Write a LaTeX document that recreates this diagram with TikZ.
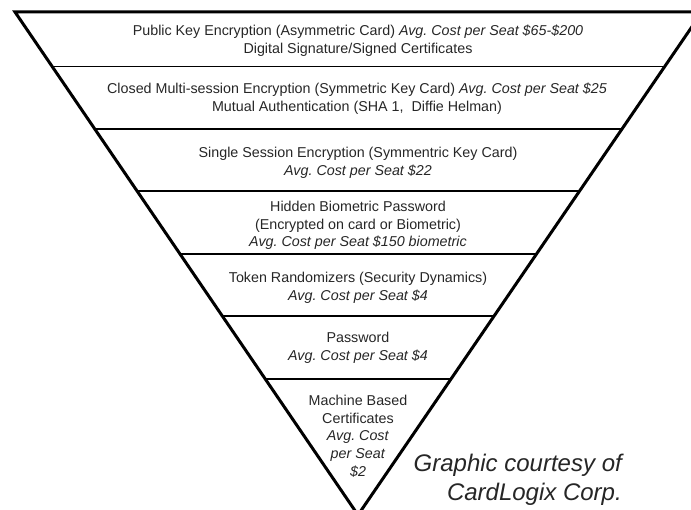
\documentclass[tikz,border=0pt]{standalone}
\usepackage{fontspec}
\setmainfont{Liberation Sans}
\usetikzlibrary{calc}
\definecolor{ink}{gray}{0.15}
\frenchspacing
\begin{document}
\begin{tikzpicture}[x=1pt,y=-1pt,
  edge/.style={line width=3pt,line join=miter},
  divider/.style={line width=1.5pt},
  band/.style={align=center,text=ink,inner sep=0pt,
    font=\fontsize{14.3}{17.8}\selectfont},
  credit/.style={align=right,text=ink,inner sep=0pt,
    font=\fontsize{24}{28.6}\selectfont\itshape}]
\useasboundingbox (0,0) rectangle (691,510);
\clip (0,0) rectangle (691,510);
% corners of the inverted pyramid
\coordinate (tl) at (15,12);
\coordinate (tr) at (702,12);
\coordinate (apex) at (358,515);
% horizontal dividers between the levels
\foreach \yy [count=\i] in {66.5,129,191,254,316,379} {
  \coordinate (L\i) at ($(tl)!{(\yy-12)/503}!(apex)$);
  \coordinate (R\i) at ($(tr)!{(\yy-12)/503}!(apex)$);
  \draw[divider] (L\i) -- (R\i);
}
\draw[edge] (tl) -- (tr) -- (apex) -- cycle;
% level texts
\node[band] (b1) at (358,40.5) {Public Key Encryption (Asymmetric Card) \textit{Avg. Cost per Seat \$65-\$200}\\Digital Signature/Signed Certificates};
\node[band] (b2) at (357,98.3) {Closed Multi-session Encryption (Symmetric Key Card) \textit{Avg. Cost per Seat \$25}\\Mutual Authentication (SHA 1,\ \ Diffie Helman)};
\node[band] (b3) at (358,162.5) {Single Session Encryption (Symmentric Key Card)\\\textit{Avg. Cost per Seat \$22}};
\node[band] (b4) at (358,225.5) {Hidden Biometric Password\\(Encrypted on card or Biometric)\\\textit{Avg. Cost per Seat \$150 biometric}};
\node[band] (b5) at (358,288) {Token Randomizers (Security Dynamics)\\\textit{Avg. Cost per Seat \$4}};
\node[band] (b6) at (358,348) {Password\\\textit{Avg. Cost per Seat \$4}};
\node[band] (b7) at (358,436.2) {Machine Based\\Certificates\\\textit{Avg. Cost}\\\textit{per Seat}\\\textit{\$2}};
\node[credit,anchor=east] (src) at (622,480) {Graphic courtesy of\\CardLogix Corp.};
\end{tikzpicture}
\end{document}
